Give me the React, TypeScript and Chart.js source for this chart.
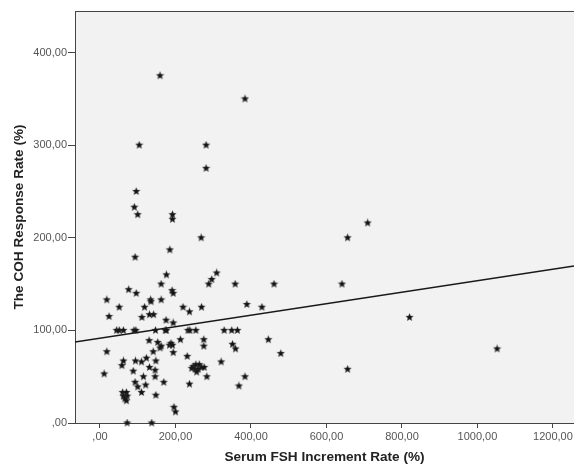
import React, { useEffect, useRef } from "react";
import { Chart, registerables } from "chart.js";

Chart.register(...registerables);

// Serum FSH increment rate (%) — x values of the scatter points
const FSH_X = [
  159, 384, 104, 281, 281, 96, 91, 100, 192, 192, 268, 185, 93, 709, 656, 641, 820, 1052, 656,
  309, 296, 288, 176, 162, 358, 461, 76, 96, 191, 194, 18, 134, 135, 162, 389, 429, 51, 118, 220,
  269, 237, 24, 111, 131, 142, 175, 194,
  44, 51, 62, 90, 95, 147, 173, 176, 233, 238, 254, 329, 349, 364,
  130, 153, 159, 141, 213, 275, 275, 351, 359, 184, 188, 192, 162, 194, 18, 446, 479,
  62, 58, 94, 110, 123, 148, 231, 321, 131, 146, 88, 11, 115, 146, 169, 237, 283, 384, 368,
  247, 254, 263, 269, 276, 243, 252, 260, 256, 93, 100, 121, 110, 148,
  60, 70, 62, 72, 66, 70, 196, 200, 72, 137,
];
// COH response rate (%) — y values of the scatter points
const COH_Y = [
  375, 350, 300, 300, 275, 250, 233, 225, 225, 220, 200, 187, 179, 216, 200, 150, 114, 80, 58,
  162, 155, 150, 160, 150, 150, 150, 144, 140, 143, 140, 133, 133, 131, 133, 128, 125, 125, 125, 125,
  125, 120, 115, 114, 117, 117, 111, 108,
  100, 100, 100, 100, 100, 100, 100, 100, 100, 100, 100, 100, 100, 100,
  89, 87, 81, 77, 90, 90, 83, 85, 80, 84, 86, 84, 83, 76, 77, 90, 75,
  67, 62, 67, 66, 70, 67, 72, 66, 60, 57, 56, 53, 50, 50, 44, 42, 50, 50, 40,
  61, 63, 63, 60, 60, 59, 58, 58, 55, 44, 39, 41, 33, 30,
  33, 33, 29, 29, 26, 24, 17, 12, 0, 0,
];

// Fit line: ends at the x-axis limits
const FIT_X = [-66.2, 1255.7];
const FIT_Y = [87.5, 169.5];

const X_MIN = -66.2;
const X_MAX = 1255.7;
const Y_MIN = 0;
const Y_MAX = 444.9;
const X_STEP = 200;
const Y_STEP = 100;

const X_TITLE = "Serum FSH Increment Rate (%)";
const Y_TITLE = "The COH Response Rate (%)";

const FONT = "'Liberation Sans', Arial, Helvetica, sans-serif";

function makeStar(size: number, color: string): HTMLCanvasElement {
  const c = document.createElement("canvas");
  c.width = size;
  c.height = size;
  const ctx = c.getContext("2d")!;
  const cx = size / 2;
  const cy = size / 2;
  const R = size / 2 - 0.5;
  const r = R * 0.45;
  ctx.beginPath();
  for (let i = 0; i < 10; i++) {
    const a = -Math.PI / 2 + (i * Math.PI) / 5;
    const rad = i % 2 === 0 ? R : r;
    ctx.lineTo(cx + rad * Math.cos(a), cy + rad * Math.sin(a));
  }
  ctx.closePath();
  ctx.fillStyle = color;
  ctx.fill();
  ctx.lineWidth = 0.5;
  ctx.strokeStyle = "rgba(70,70,70,0.5)";
  ctx.stroke();
  return c;
}

function fmt(v: number): string {
  if (v === 0) return ",00";
  return v.toFixed(2).replace(".", ",");
}

const plotBg = {
  id: "plotBg",
  beforeDraw(chart: any) {
    const { ctx, chartArea } = chart;
    if (!chartArea) return;
    ctx.save();
    ctx.fillStyle = "#f2f2f2";
    ctx.fillRect(chartArea.left, chartArea.top, chartArea.right - chartArea.left, chartArea.bottom - chartArea.top);
    ctx.restore();
  },
  afterDraw(chart: any) {
    const { ctx, chartArea } = chart;
    if (!chartArea) return;
    ctx.save();
    ctx.strokeStyle = "#444";
    ctx.lineWidth = 1;
    ctx.beginPath();
    ctx.moveTo(chartArea.left, chartArea.top + 0.5);
    ctx.lineTo(chartArea.right, chartArea.top + 0.5);
    ctx.stroke();
    ctx.restore();
  },
};

export default function App() {
  const ref = useRef<HTMLCanvasElement | null>(null);

  useEffect(() => {
    if (!ref.current) return;
    const star = makeStar(9, "#141414");
    const points = FSH_X.map((x, i) => ({ x, y: COH_Y[i] }));
    const fit = FIT_X.map((x, i) => ({ x, y: FIT_Y[i] }));

    const chart = new Chart(ref.current, {
      type: "scatter",
      data: {
        datasets: [
          {
            type: "line",
            data: fit,
            borderColor: "#1a1a1a",
            borderWidth: 1.6,
            pointRadius: 0,
            showLine: true,
            fill: false,
            order: 2,
          } as any,
          {
            type: "scatter",
            data: points,
            pointStyle: star,
            pointRadius: 4.5,
            clip: false,
            order: 1,
          } as any,
        ],
      },
      options: {
        animation: false,
        responsive: false,
        devicePixelRatio: 1,
        layout: { autoPadding: false, padding: { top: 11, left: 0, right: 0, bottom: 0 } },
        plugins: { legend: { display: false }, tooltip: { enabled: false } },
        scales: {
          x: {
            type: "linear",
            min: X_MIN,
            max: X_MAX,
            afterFit: (s: any) => {
              s.height = 43;
              s.paddingLeft = 0;
              s.paddingRight = 0;
            },
            ticks: {
              stepSize: X_STEP,
              includeBounds: false,
              autoSkip: false,
              maxRotation: 0,
              padding: 2,
              color: "#555",
              font: { family: FONT, size: 11 },
              callback: (v: any) => fmt(Number(v)),
            },
            grid: { drawOnChartArea: false, drawTicks: true, tickLength: 5, color: "#444" },
            border: { display: true, color: "#444", width: 1 },
            title: {
              display: true,
              text: X_TITLE,
              color: "#222",
              font: { family: FONT, size: 13.6, weight: "bold" },
              padding: { top: 0, bottom: 1 },
            },
          },
          y: {
            type: "linear",
            min: Y_MIN,
            max: Y_MAX,
            afterFit: (s: any) => {
              s.width = 75;
              s.paddingTop = 0;
              s.paddingBottom = 0;
            },
            ticks: {
              stepSize: Y_STEP,
              includeBounds: false,
              autoSkip: false,
              padding: 1,
              color: "#555",
              font: { family: FONT, size: 11 },
              callback: (v: any) => fmt(Number(v)),
            },
            grid: { drawOnChartArea: false, drawTicks: true, tickLength: 7, color: "#444" },
            border: { display: true, color: "#444", width: 1 },
            title: {
              display: true,
              text: Y_TITLE,
              color: "#222",
              font: { family: FONT, size: 13.6, weight: "bold" },
              padding: { top: 11, bottom: 0 },
            },
          },
        },
      },
      plugins: [plotBg],
    });
    return () => chart.destroy();
  }, []);

  return (
    <div style={{ position: "absolute", left: 0, top: 0, width: 574, height: 466, background: "#fff" }}>
      <canvas ref={ref} width={574} height={466} style={{ display: "block" }} />
    </div>
  );
}
